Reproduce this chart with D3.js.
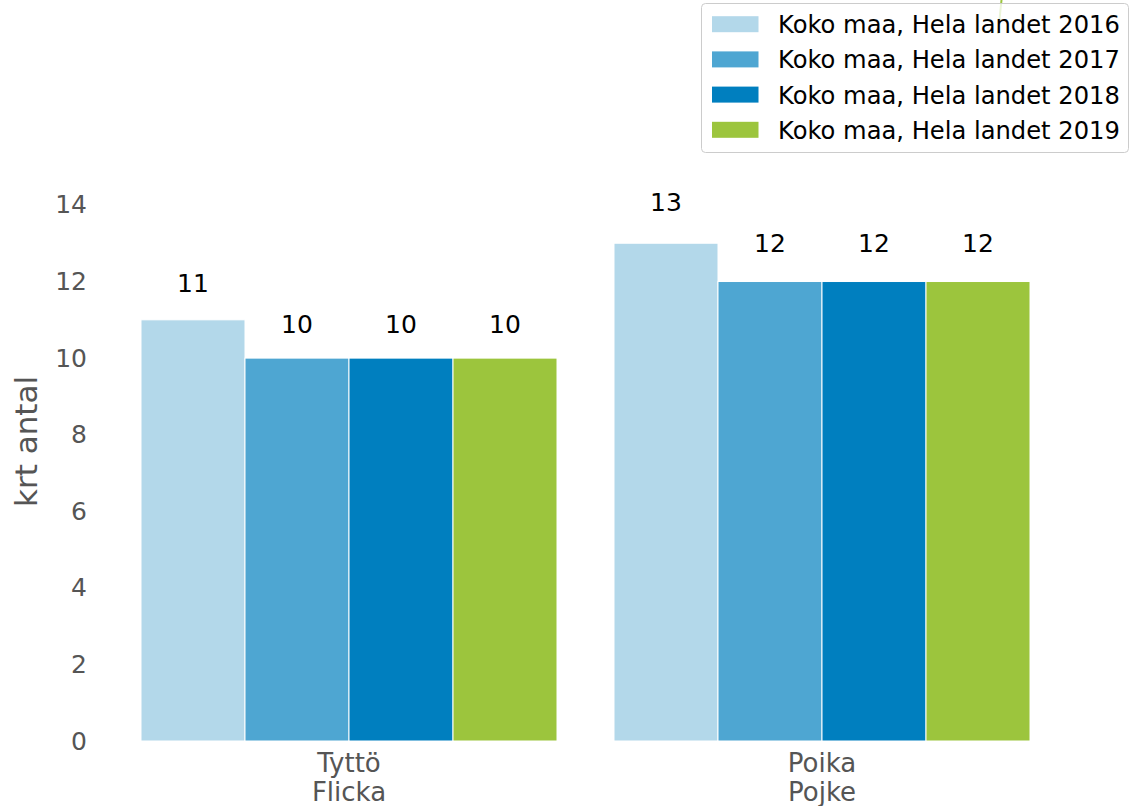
<!DOCTYPE html>
<html>
<head>
<meta charset="utf-8">
<script src="https://cdn.jsdelivr.net/npm/d3@7"></script>
<style>
  html, body { margin: 0; padding: 0; background: #fff; }
  svg { display: block; }
  svg text { font-family: "DejaVu Sans", sans-serif; }
</style>
</head>
<body>
<svg id="chart" width="1129" height="806"></svg>
<script>
// Groups (Finnish / Swedish) and series years
const categories = [["Tyttö", "Flicka"], ["Poika", "Pojke"]];
const seriesNames = [
  "Koko maa, Hela landet 2016",
  "Koko maa, Hela landet 2017",
  "Koko maa, Hela landet 2018",
  "Koko maa, Hela landet 2019"
];
const values2016 = [11, 13];
const values2017 = [10, 12];
const values2018 = [10, 12];
const values2019 = [10, 12];
const seriesColors = ["#b3d8ea", "#4ea6d2", "#007fbf", "#9cc53d"];
const yTicks = [0, 2, 4, 6, 8, 10, 12, 14];
const yLabel = "krt antal";

const seriesValues = [values2016, values2017, values2018, values2019];
const FONT = "DejaVu Sans, sans-serif";

const svg = d3.select("#chart");

const groupKeys = categories.map(c => c.join("\n"));

const x0 = d3.scaleBand()
  .domain(groupKeys)
  .range([112.5, 1058.5])
  .paddingInner(0.1205)
  .paddingOuter(0.06025);

const x1 = d3.scaleBand()
  .domain(seriesNames)
  .range([0, x0.bandwidth()]);

const y = d3.scaleLinear()
  .domain([0, 15.67])
  .range([741, 141]);

// Stray green line running behind the legend
svg.append("line")
  .attr("x1", 1001.5).attr("y1", 0)
  .attr("x2", 998).attr("y2", 34)
  .attr("stroke", seriesColors[3])
  .attr("stroke-width", 2);

// Bars
const groups = svg.append("g")
  .selectAll("g")
  .data(groupKeys)
  .join("g")
  .attr("transform", d => `translate(${x0(d)},0)`);

groups.each(function(gk, gi) {
  const g = d3.select(this);
  seriesNames.forEach((s, si) => {
    const v = seriesValues[si][gi];
    g.append("rect")
      .attr("x", x1(s))
      .attr("y", y(v))
      .attr("width", x1.bandwidth())
      .attr("height", y(0) - y(v))
      .attr("fill", seriesColors[si])
      .attr("stroke", "#fff")
      .attr("stroke-width", 1);
    g.append("text")
      .attr("x", x1(s) + x1.bandwidth() / 2)
      .attr("y", y(v * 1.065))
      .attr("text-anchor", "middle")
      .attr("font-family", FONT)
      .attr("font-size", 25)
      .attr("fill", "#000")
      .text(v);
  });
});

// Y axis
const yAxis = svg.append("g")
  .attr("transform", "translate(97,0)")
  .call(d3.axisLeft(y).tickValues(yTicks).tickSize(0).tickPadding(10));
yAxis.attr("font-family", FONT);
yAxis.select(".domain").remove();
yAxis.selectAll("text")
  .attr("font-size", 25)
  .attr("font-family", FONT)
  .attr("fill", "#555");

// X axis with two-line labels
const xAxis = svg.append("g")
  .attr("transform", "translate(0,741)")
  .call(d3.axisBottom(x0).tickSize(0).tickFormat(""));
xAxis.attr("font-family", FONT);
xAxis.select(".domain").remove();
xAxis.selectAll(".tick").each(function(d) {
  const lines = d.split("\n");
  const t = d3.select(this).append("text")
    .attr("text-anchor", "middle")
    .attr("font-family", FONT)
    .attr("font-size", 26)
    .attr("fill", "#555");
  lines.forEach((ln, i) => {
    t.append("tspan").attr("x", 0).attr("y", 30.5 + i * 29).text(ln);
  });
});

// Y axis title
svg.append("text")
  .attr("transform", "translate(37,441.5) rotate(-90)")
  .attr("text-anchor", "middle")
  .attr("font-family", FONT)
  .attr("font-size", 31)
  .attr("fill", "#555")
  .text(yLabel);

// Legend
const legend = svg.append("g");
legend.append("rect")
  .attr("x", 701.5).attr("y", 3.5)
  .attr("width", 427).attr("height", 149)
  .attr("rx", 4).attr("ry", 4)
  .attr("fill", "#fff").attr("fill-opacity", 0.8)
  .attr("stroke", "#cccccc").attr("stroke-width", 1);

seriesNames.forEach((s, i) => {
  const cy = 24.2 + i * 35.2;
  legend.append("rect")
    .attr("x", 712).attr("y", cy - 8)
    .attr("width", 46.5).attr("height", 16)
    .attr("fill", seriesColors[i]);
  legend.append("text")
    .attr("x", 778).attr("y", cy + 9)
    .attr("font-family", FONT)
    .attr("font-size", 24.2)
    .attr("fill", "#000")
    .text(s);
});
</script>
</body>
</html>
